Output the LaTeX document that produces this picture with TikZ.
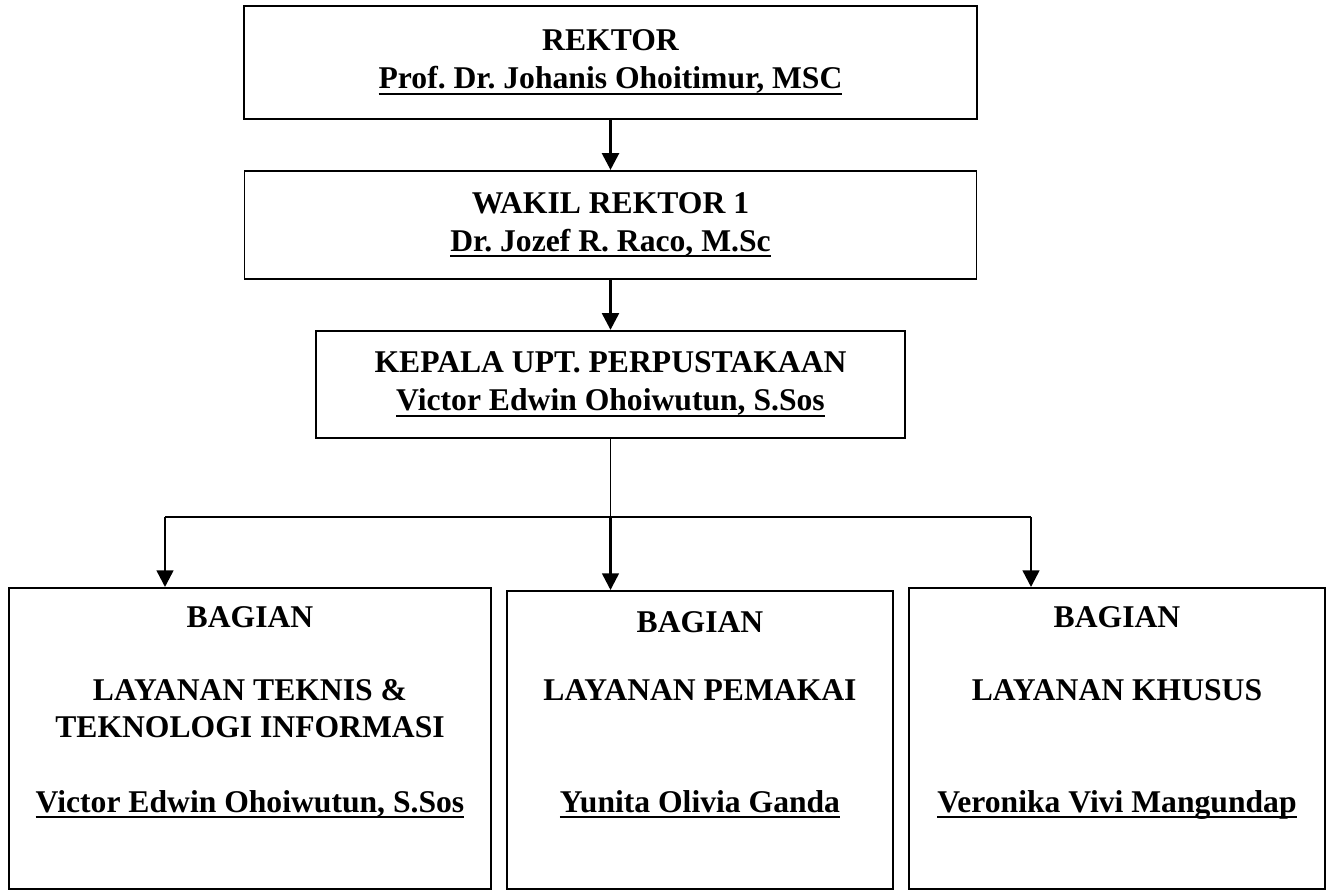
\documentclass[tikz,border=0pt]{standalone}
\usepackage{fontspec}
\setmainfont{Liberation Serif}
\usetikzlibrary{positioning,arrows.meta}
\frenchspacing
\newcommand{\uname}[1]{\setbox0\hbox{#1}\leavevmode\rlap{\rule[-3.5pt]{\wd0}{1.3pt}}\box0}

\begin{document}
\begin{tikzpicture}[box/.style={draw,line width=1.1pt,align=center,inner sep=0pt,font=\bfseries\fontsize{18}{21.6}\selectfont},
    txt/.style={anchor=base,inner sep=0pt,font=\bfseries\fontsize{18}{21.6}\selectfont},
    arr/.style={-{Triangle[length=9.5pt,width=9.5pt]}}]
        \useasboundingbox (0,0) rectangle (26.62,-17.8);

        \node[box,minimum width=14.66cm,minimum height=2.26cm,anchor=north] (rektor) at (12.21,-0.1) {REKTOR\\ \uname{Prof. Dr. Johanis Ohoitimur, MSC}};
        \node[box,minimum width=14.64cm,minimum height=2.16cm] (wakil) [below=1.0cm of rektor] {WAKIL REKTOR 1\\ \uname{Dr. Jozef R. Raco, M.Sc}};
        \node[box,minimum width=11.78cm,minimum height=2.14cm] (kepala) [below=1.0cm of wakil] {KEPALA UPT. PERPUSTAKAAN\\ \uname{Victor Edwin Ohoiwutun, S.Sos}};

        \node[box,minimum width=9.64cm,minimum height=6.02cm,anchor=north] (teknis) at (5.0,-11.74) {};
        \node[box,minimum width=7.72cm,minimum height=5.96cm,anchor=north] (pemakai) at (14.0,-11.8) {};
        \node[box,minimum width=8.32cm,minimum height=6.02cm,anchor=north] (khusus) at (22.34,-11.74) {};

        \node[txt] (bagA) at (5.0,-12.54) {BAGIAN};
        \node[txt] (layA) at (5.0,-14.0) {LAYANAN TEKNIS \&};
        \node[txt] (infA) at (5.0,-14.74) {TEKNOLOGI INFORMASI};
        \node[txt] (namA) at (5.0,-16.24) {\uname{Victor Edwin Ohoiwutun, S.Sos}};
        \node[txt] (bagB) at (14.0,-12.64) {BAGIAN};
        \node[txt] (layB) at (14.0,-14.0) {LAYANAN PEMAKAI};
        \node[txt] (namB) at (14.0,-16.24) {\uname{Yunita Olivia Ganda}};
        \node[txt] (bagC) at (22.34,-12.54) {BAGIAN};
        \node[txt] (layC) at (22.34,-14.0) {LAYANAN KHUSUS};
        \node[txt] (namC) at (22.34,-16.24) {\uname{Veronika Vivi Mangundap}};

        \coordinate (jy) at (0,-10.34);
        \coordinate (j) at (kepala.south |- jy);
        \coordinate (jl) at (3.3,-10.34);
        \coordinate (jr) at (20.62,-10.34);

        \draw[arr,line width=1.7pt] (rektor) -- (wakil);
        \draw[arr,line width=1.7pt] (wakil) -- (kepala);
        \draw[line width=0.6pt] (kepala.south) -- (j);
        \draw[line width=1.1pt] (jl) -- (jr);
        \draw[arr,line width=1.4pt] (jl) -- (jl |- teknis.north);
        \draw[arr,line width=1.4pt] (j) -- (j |- pemakai.north);
        \draw[arr,line width=1.4pt] (jr) -- (jr |- khusus.north);
    \end{tikzpicture}
\end{document}
